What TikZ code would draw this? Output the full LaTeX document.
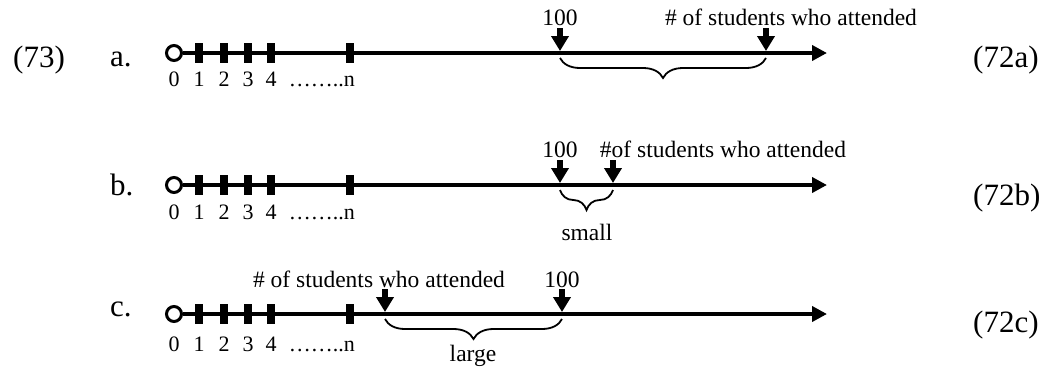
\documentclass[tikz,border=0pt]{standalone}
\usepackage{fontspec}
\setmainfont{Liberation Serif}
\usetikzlibrary{arrows.meta,decorations.pathreplacing}

\begin{document}
\begin{tikzpicture}
[x = 1pt, y = -1pt,
 axis/.style = {line width = 4pt, -{Triangle[length=15pt,width=15pt]}},
 origin/.style = {draw, circle, line width = 3pt, fill = white, minimum size = 15pt, inner sep = 0pt},
 tickmark/.style = {fill, minimum width = 8pt, minimum height = 20pt, inner sep = 0pt},
 pointer/.style = {line width = 6pt, -{Triangle[length=15pt,width=17pt]}},
 span/.style = {line width = 1.8pt, decorate, decoration = {brace, mirror, amplitude = 20pt}},
 digit/.style = {font = \fontsize{22}{26}\selectfont, inner sep = 0pt, anchor = base},
 tag/.style = {font = \fontsize{23.5}{28}\selectfont, inner sep = 0pt, anchor = base},
 item/.style = {font = \fontsize{31}{36}\selectfont, inner sep = 0pt, anchor = base west}
 ]
\useasboundingbox (0,0) rectangle (1048,370);
\foreach \r/\y/\b in {a/53/86, b/185/219, c/314/351}{
  \node [origin] (\r0) at (174,\y) {};
  \coordinate (\r-end) at (827,\y);
  \draw [axis] (\r0) -- (\r-end);
  \foreach \i/\x in {1/199, 2/224, 3/248, 4/271, n/350}
    \node [tickmark] (\r\i) at (\x,\y) {};
  \foreach \i/\x in {0/174, 1/199, 2/224, 3/248, 4/271}
    \node [digit] (\r-l\i) at (\x,\b) {\i};
  \node [digit, anchor = base east] (\r-ln) at (355,\b) {……..n};
}
\node [item] (ex) at (13,67) {(73)};
\node [item] (a-item) at (110,66) {a.};
\node [item] (b-item) at (110,195) {b.};
\node [item] (c-item) at (110,316) {c.};
\node [item] (a-ref) at (973,67) {(72a)};
\node [item] (b-ref) at (973,205) {(72b)};
\node [item] (c-ref) at (973,332) {(72c)};

\coordinate (a100) at (560,51);
\coordinate (a100-top) at (560,28);
\coordinate (aatt) at (766,51);
\coordinate (aatt-top) at (766,28);
\node [tag] (a100-lbl) at (560,25) {100};
\node [tag] (aatt-lbl) at (791,25) {\# of students who attended};
\draw [pointer] (a100-top) -- (a100);
\draw [pointer] (aatt-top) -- (aatt);
\draw [span] (560,58) -- (766,58);

\coordinate (b100) at (560,183);
\coordinate (b100-top) at (560,160);
\coordinate (batt) at (613,183);
\coordinate (batt-top) at (613,160);
\node [tag] (b100-lbl) at (560,157) {100};
\node [tag] (batt-lbl) at (723,157) {\#of students who attended};
\draw [pointer] (b100-top) -- (b100);
\draw [pointer] (batt-top) -- (batt);
\draw [span] (560,190) -- (613,190);
\node [tag] (small) at (587,240) {small};

\coordinate (catt) at (385,312);
\coordinate (catt-top) at (385,289);
\coordinate (c100) at (562,312);
\coordinate (c100-top) at (562,289);
\node [tag] (catt-lbl) at (379,287) {\# of students who attended};
\node [tag] (c100-lbl) at (562,287) {100};
\draw [pointer] (catt-top) -- (catt);
\draw [pointer] (c100-top) -- (c100);
\draw [span] (385,319) -- (562,319);
\node [tag] (large) at (473,361) {large};
\end{tikzpicture}
\end{document}
